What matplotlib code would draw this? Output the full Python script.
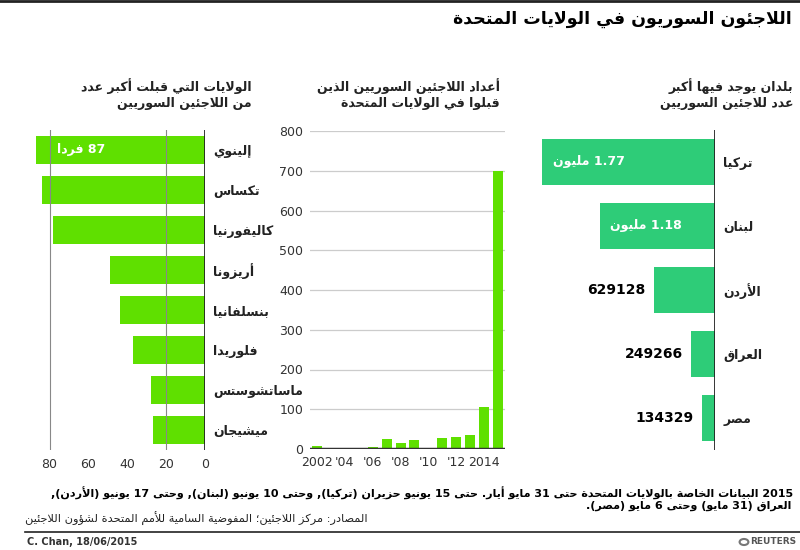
#!/usr/bin/env python3
# -*- coding: utf-8 -*-

import re
import matplotlib
matplotlib.use('Agg')
import matplotlib.pyplot as plt
from matplotlib.patches import Circle

# data
states = ['إلينوي', 'تكساس', 'كاليفورنيا', 'أريزونا', 'بنسلفانيا', 'فلوريدا', 'ماساتشوستس', 'ميشيجان']
state_counts = [87, 84, 78, 49, 44, 37, 28, 27]

years = [2002, 2003, 2004, 2005, 2006, 2007, 2008, 2009, 2010, 2011, 2012, 2013, 2014, 2015]
admitted = [7, 1, 1, 1, 6, 25, 16, 23, 1, 28, 30, 36, 105, 700]
year_ticks = [2002, 2004, 2006, 2008, 2010, 2012, 2014]
year_labels = ['2002', "'04", "'06", "'08", "'10", "'12", '2014']

countries = ['تركيا', 'لبنان', 'الأردن', 'العراق', 'مصر']
refugees_m = [1.77, 1.18, 0.629128, 0.249266, 0.134329]
country_labels = ['1.77 مليون', '1.18 مليون', '629128', '249266', '134329']

title = 'اللاجئون السوريون في الولايات المتحدة'
title_states = ['الولايات التي قبلت أكبر عدد', 'من اللاجئين السوريين']
title_years = ['أعداد اللاجئين السوريين الذين', 'قبلوا في الولايات المتحدة']
title_countries = ['بلدان يوجد فيها أكبر', 'عدد للاجئين السوريين']
notes = ['2015 البيانات الخاصة بالولايات المتحدة حتى 31 مايو أيار. حتى 15 يونيو حزيران (تركيا), وحتى 10 يونيو (لبنان), وحتى 17 يونيو (الأردن),',
         'العراق (31 مايو) وحتى 6 مايو (مصر).']
source = 'المصادر: مركز اللاجئين؛ المفوضية السامية للأمم المتحدة لشؤون اللاجئين'

GREEN = '#5fe000'
GREEN2 = '#2ecc78'
DARK = '#222222'

# --- minimal arabic shaping + right-to-left ordering (no reshaper lib here) ---
_letters = [('ء', 0xFE80, 1), ('آ', 0xFE81, 2), ('أ', 0xFE83, 2), ('ؤ', 0xFE85, 2),
            ('إ', 0xFE87, 2), ('ئ', 0xFE89, 4), ('ا', 0xFE8D, 2), ('ب', 0xFE8F, 4),
            ('ة', 0xFE93, 2), ('ت', 0xFE95, 4), ('ث', 0xFE99, 4), ('ج', 0xFE9D, 4),
            ('ح', 0xFEA1, 4), ('خ', 0xFEA5, 4), ('د', 0xFEA9, 2), ('ذ', 0xFEAB, 2),
            ('ر', 0xFEAD, 2), ('ز', 0xFEAF, 2), ('س', 0xFEB1, 4), ('ش', 0xFEB5, 4),
            ('ص', 0xFEB9, 4), ('ض', 0xFEBD, 4), ('ط', 0xFEC1, 4), ('ظ', 0xFEC5, 4),
            ('ع', 0xFEC9, 4), ('غ', 0xFECD, 4), ('ف', 0xFED1, 4), ('ق', 0xFED5, 4),
            ('ك', 0xFED9, 4), ('ل', 0xFEDD, 4), ('م', 0xFEE1, 4), ('ن', 0xFEE5, 4),
            ('ه', 0xFEE9, 4), ('و', 0xFEED, 2), ('ى', 0xFEEF, 2), ('ي', 0xFEF1, 4)]
FORMS = {c: (b, k) for c, b, k in _letters}
LAM_ALEF = {'آ': 0xFEF5, 'أ': 0xFEF7, 'إ': 0xFEF9, 'ا': 0xFEFB}
MIRROR = {'(': ')', ')': '(', '[': ']', ']': '['}


def shape(s):
    out = []
    prev = None
    i = 0
    while i < len(s):
        c = s[i]
        if c not in FORMS:
            out.append(c)
            prev = None
            i += 1
            continue
        base, k = FORMS[c]
        p = prev is not None and FORMS[prev][1] == 4
        if c == 'ل' and i + 1 < len(s) and s[i + 1] in LAM_ALEF:
            out.append(chr(LAM_ALEF[s[i + 1]] + (1 if p else 0)))
            prev = s[i + 1]
            i += 2
            continue
        nxt = i + 1 < len(s) and s[i + 1] in FORMS
        if k == 1:
            form = 0
        elif k == 2:
            form = 1 if p else 0
        elif p and nxt:
            form = 3
        elif p:
            form = 1
        elif nxt:
            form = 2
        else:
            form = 0
        out.append(chr(base + form))
        prev = c
        i += 1
    return ''.join(out)


def ar(s):
    parts = re.findall(r'[0-9A-Za-z]+(?:[.,/][0-9A-Za-z]+)*|.', shape(s))
    return ''.join(MIRROR.get(p, p) for p in reversed(parts))


def fx(x):
    return x / 800.0


def fy(y):
    return 1 - y / 550.0


plt.rcParams['font.family'] = ['DejaVu Sans']

fig = plt.figure(figsize=(8, 5.5), dpi=100)

# top rule + title
fig.add_artist(plt.Line2D([0, 1], [fy(1), fy(1)], color=DARK, lw=2))
fig.text(fx(792), fy(19), ar(title), ha='right', va='center', fontsize=12.5, fontweight='bold', color='black')

# panel titles
for titles, xr in [(title_states, 252), (title_years, 500), (title_countries, 793)]:
    for k, line in enumerate(titles):
        fig.text(fx(xr), fy(86 + k * 17), ar(line), ha='right', va='center',
                 fontsize=9, fontweight='bold', color=DARK)

# ---------- left: states ----------
ax1 = fig.add_axes([fx(35), fy(450), fx(170), 320 / 550.0])
pos = list(range(len(states)))
ax1.barh(pos, state_counts, height=0.72, color=GREEN, zorder=2)
ax1.set_xlim(87.5, 0)
ax1.set_ylim(len(states) - 0.5, -0.5)
ax1.set_xticks([80, 60, 40, 20, 0])
ax1.tick_params(axis='x', length=0, labelsize=9, labelcolor='#333333', pad=6)
for v in [80, 20]:
    ax1.axvline(v, color='#888888', lw=0.8, zorder=2.5)
ax1.axvline(0, color=DARK, lw=2, zorder=3)
ax1.yaxis.tick_right()
ax1.set_yticks(pos)
ax1.set_yticklabels([ar(s) for s in states], fontsize=9, fontweight='bold', color=DARK)
ax1.tick_params(axis='y', length=0, pad=6)
for sp in ax1.spines.values():
    sp.set_visible(False)
ax1.text(state_counts[0] - 11, 0, ar('87 فردا'), ha='left', va='center', color='white',
         fontsize=9, fontweight='bold', zorder=4)

# ---------- middle: admissions per year ----------
ax2 = fig.add_axes([fx(310), fy(449), fx(195), 318 / 550.0])
ax2.bar(years, admitted, width=0.72, color=GREEN, zorder=2)
ax2.set_xlim(2001.5, 2015.5)
ax2.set_ylim(0, 800)
ax2.set_yticks(range(0, 801, 100))
ax2.set_xticks(year_ticks)
ax2.set_xticklabels(year_labels)
ax2.tick_params(length=0, labelsize=9, labelcolor='#333333')
ax2.tick_params(axis='x', pad=5)
ax2.tick_params(axis='y', pad=5)
ax2.grid(axis='y', color='#cccccc', lw=0.9, zorder=1)
ax2.axhline(0, color='#333333', lw=2.5, zorder=3)
for sp in ax2.spines.values():
    sp.set_visible(False)

# ---------- right: host countries ----------
ax3 = fig.add_axes([fx(530), fy(450), fx(185), 320 / 550.0])
pos3 = list(range(len(countries)))
ax3.barh(pos3, refugees_m, height=0.72, color=GREEN2, zorder=2)
ax3.set_xlim(1.893, 0)
ax3.set_ylim(len(countries) - 0.5, -0.5)
ax3.set_xticks([])
ax3.yaxis.tick_right()
ax3.set_yticks(pos3)
ax3.set_yticklabels([ar(c) for c in countries], fontsize=9, fontweight='bold', color=DARK)
ax3.tick_params(axis='y', length=0, pad=6)
ax3.axvline(0, color=DARK, lw=2, zorder=3)
for sp in ax3.spines.values():
    sp.set_visible(False)
for i, (v, lab) in enumerate(zip(refugees_m, country_labels)):
    if v > 1:
        ax3.text(v - 0.11, i, ar(lab), ha='left', va='center', color='white',
                 fontsize=9, fontweight='bold')
    else:
        ax3.text(v + 0.08, i, ar(lab), ha='right', va='center', color='black',
                 fontsize=10, fontweight='bold')

# ---------- footer ----------
fig.text(fx(793), fy(493), ar(notes[0]), ha='right', va='center', fontsize=8, fontweight='bold', color='black')
fig.text(fx(791), fy(506), ar(notes[1]), ha='right', va='center', fontsize=8, fontweight='bold', color='black')
fig.text(fx(368), fy(519), ar(source), ha='right', va='center', fontsize=8.2, color=DARK)
fig.add_artist(plt.Line2D([fx(25), 1], [fy(532), fy(532)], color=DARK, lw=1.2))
fig.text(fx(27), fy(542), 'C. Chan, 18/06/2015', ha='left', va='center', fontsize=7, fontweight='bold', color='#333333')
fig.text(fx(796), fy(542), 'REUTERS', ha='right', va='center', fontsize=6.5, fontweight='bold', color='#555555')
fig.add_artist(Circle((fx(744), fy(542)), 0.0055, transform=fig.transFigure, fill=False, ec='#777777', lw=1.5))

fig.savefig('out.png', dpi=100)
